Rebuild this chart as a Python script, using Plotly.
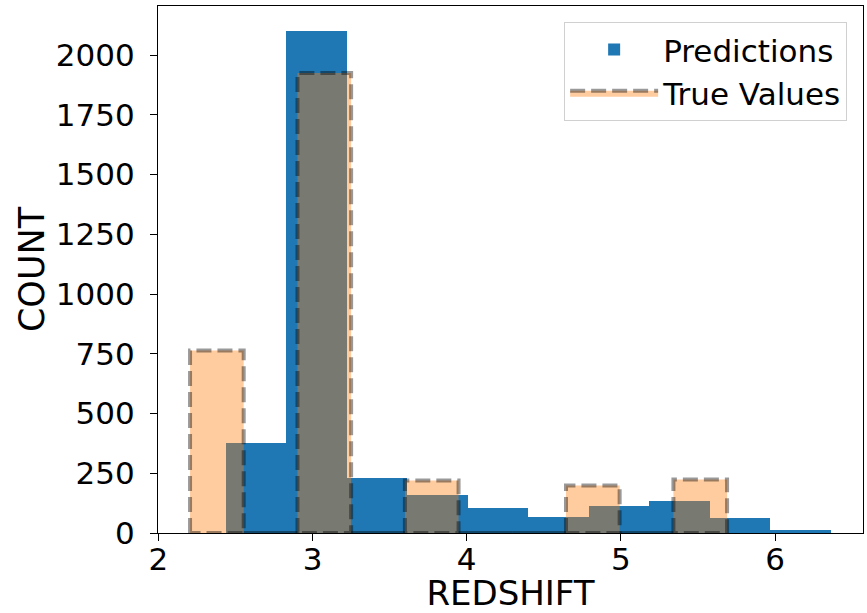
import plotly.graph_objects as go

# ---- data ----
pred_edges = [2.437, 2.830, 3.222, 3.615, 4.007, 4.400, 4.793, 5.185, 5.578, 5.970, 6.363]
pred_counts = [376, 2100, 230, 157, 104, 68, 115, 135, 62, 13]

true_edges = [2.205, 2.553, 2.902, 3.250, 3.599, 3.947, 4.296, 4.644, 4.992, 5.341, 5.689]
true_counts = [764, 0, 1925, 0, 220, 0, 0, 199, 0, 224]

x_ticks = [2, 3, 4, 5, 6]
y_ticks = [0, 250, 500, 750, 1000, 1250, 1500, 1750, 2000]

FONT = "DejaVu Sans"

# predictions: solid bars
pred_centers = [(a + b) / 2 for a, b in zip(pred_edges[:-1], pred_edges[1:])]
pred_widths = [b - a for a, b in zip(pred_edges[:-1], pred_edges[1:])]

# true values: rectangles traced as closed paths (dashed edges)
tx, ty = [], []
for a, b, h in zip(true_edges[:-1], true_edges[1:], true_counts):
    tx += [a, a, b, b, a, None]
    ty += [0, h, h, 0, 0, None]

fig = go.Figure()
fig.add_trace(go.Bar(
    x=pred_centers, y=pred_counts, width=pred_widths,
    marker=dict(color="#1f77b4", line=dict(width=0)),
    name="Predictions",
))
fig.add_trace(go.Scatter(
    x=tx, y=ty, mode="lines", fill="toself",
    fillcolor="rgba(255,127,14,0.4)",
    line=dict(color="rgba(0,0,0,0.4)", width=4, dash="15px,6px"),
    name="True Values", connectgaps=False,
))

xmin = min(pred_edges[0], true_edges[0])
xmax = max(pred_edges[-1], true_edges[-1])
pad = 0.05 * (xmax - xmin)
ymax = 1.05 * max(max(pred_counts), max(true_counts))

axis_common = dict(
    showline=True, linecolor="black", linewidth=1.3, mirror=True,
    ticks="outside", ticklen=7, tickwidth=1.3, tickcolor="black",
    showgrid=False, zeroline=False, automargin=False,
    tickfont=dict(family=FONT, size=31, color="black"),
)

fig.update_layout(
    width=867, height=613,
    margin=dict(l=158, r=4, t=6, b=80),
    plot_bgcolor="white", paper_bgcolor="white",
    font=dict(family=FONT, color="black"),
    showlegend=True,
    legend=dict(
        x=0.9775, y=0.97, xanchor="right", yanchor="top",
        bgcolor="rgba(255,255,255,0.8)", bordercolor="#d0d0d0", borderwidth=1,
        font=dict(family=FONT, size=31, color="black"),
        traceorder="normal", itemwidth=88,
    ),
    xaxis=dict(
        range=[xmin - pad, xmax + pad], tickvals=x_ticks,
        title=dict(text="REDSHIFT", font=dict(family=FONT, size=34, color="black"), standoff=5),
        ticklabelstandoff=-8,
        **axis_common,
    ),
    yaxis=dict(
        range=[0, ymax], tickvals=y_ticks,
        title=dict(text="COUNT", font=dict(family=FONT, size=35, color="black"), standoff=0),
        ticklabelstandoff=9,
        **axis_common,
    ),
    bargap=0,
)

fig.write_html("out.html", config={"displayModeBar": False},
               post_script="document.body.style.margin='0';")
